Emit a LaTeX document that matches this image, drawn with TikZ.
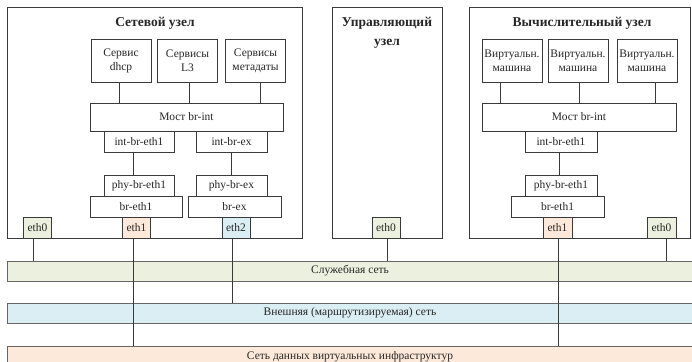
\documentclass[tikz,border=0pt]{standalone}
\usepackage{fontspec}
\setmainfont{Liberation Serif}
\usetikzlibrary{positioning,calc}

\definecolor{lanGreen}{HTML}{EBF1DE}
\definecolor{lanBlue}{HTML}{DAEEF3}
\definecolor{lanPeach}{HTML}{FDE9D9}
\definecolor{edgeGray}{HTML}{3A3A3A}

\begin{document}
\begin{tikzpicture}[x=1pt,y=-1pt,
	host/.style={draw=edgeGray, line width=0.9pt, fill=white, rectangle, inner sep=0pt, minimum height=231pt},
	hosttitle/.style={font=\fontsize{13.5}{19}\selectfont\bfseries, align=center, text=black!85},
	svc/.style={draw=edgeGray, line width=0.9pt, fill=white, align=center, inner sep=1pt, minimum width=60pt, minimum height=43pt, text=black!85, font=\fontsize{11.5}{14}\selectfont},
	brg/.style={draw=edgeGray, line width=0.9pt, fill=white, inner sep=1pt, minimum height=21pt, text=black!85, font=\fontsize{11.5}{14}\selectfont},
	port/.style={draw=edgeGray, line width=0.9pt, inner sep=0pt, minimum width=28pt, minimum height=21pt, text=black!85, font=\fontsize{11.5}{14}\selectfont},
	lan/.style={draw=black!60, line width=0.9pt, minimum width=686pt, minimum height=20pt, inner sep=0pt, text=black!85, font=\fontsize{11.5}{14}\selectfont},
	wire/.style={draw=edgeGray, line width=0.9pt}]
	\useasboundingbox (0,0) rectangle (692,361);
	\clip (0,0) rectangle (692,361);

	% networks
	\node[lan, fill=lanGreen] (srv) at (350,271) {Служебная сеть};
	\node[lan, fill=lanBlue] (ext) at (350,313) {Внешняя (маршрутизируемая) сеть};
	\node[lan, fill=lanPeach, minimum height=21pt] (dat) at (350,356.5) {Сеть данных виртуальных инфраструктур};

	% network node
	\begin{scope}
		\node[host, minimum width=295pt] (net) at (154.5,122.5) {};
		\node[hosttitle] (nettitle) at (155,23) {Сетевой узел};
		\node[svc] (dhcp) at (121,60.5) {Сервис\\dhcp};
		\node[svc] (l3) at (187.5,60.5) {Сервисы\\L3};
		\node[svc] (meta) at (255.5,60.5) {Сервисы\\метадаты};
		\node[brg, minimum width=193pt, minimum height=28pt] (netbr) at (186.5,117) {Мост br-int};
		\node[brg, minimum width=70pt] (netint1) at (139,141.5) {int-br-eth1};
		\node[brg, minimum width=71pt] (netintex) at (231.5,141.5) {int-br-ex};
		\node[brg, minimum width=70pt] (netphy1) at (139,185.5) {phy-br-eth1};
		\node[brg, minimum width=71pt] (netphyex) at (231.5,185.5) {phy-br-ex};
		\node[brg, minimum width=92pt] (netbre1) at (136,206.5) {br-eth1};
		\node[brg, minimum width=93pt] (netbrex) at (234.5,206.5) {br-ex};
		\node[port, fill=lanGreen] (neteth0) at (37.5,227.5) {eth0};
		\node[port, fill=lanPeach] (neteth1) at (136.5,227.5) {eth1};
		\node[port, fill=lanBlue] (neteth2) at (236,227.5) {eth2};

		\draw[wire] ([xshift=-2pt]dhcp.south) -- ([xshift=-2pt]dhcp.south |- netbr.north);
		\draw[wire] ([xshift=1.5pt]l3.south) -- ([xshift=1.5pt]l3.south |- netbr.north);
		\draw[wire] ([xshift=4.5pt]meta.south) -- ([xshift=4.5pt]meta.south |- netbr.north);
		\draw[wire] ([xshift=-6pt]netint1.south) -- ([xshift=-6pt]netphy1.north);
		\draw[wire] (netintex.south) -- (netphyex.north);
	\end{scope}

	% control node
	\begin{scope}
		\node[host, minimum width=110pt] (ctl) at (387,122.5) {};
		\node[hosttitle] (ctltitle) at (387,33) {Управляющий\\узел};
		\node[port, fill=lanGreen] (ctleth0) at (386,227.5) {eth0};
	\end{scope}

	% compute node
	\begin{scope}
		\node[host, minimum width=221pt] (cmp) at (579.5,122.5) {};
		\node[hosttitle] (cmptitle) at (582,23) {Вычислительный узел};
		\node[svc] (vm1) at (512,60.5) {Виртуальн.\\машина};
		\node[svc] (vm2) at (578,60.5) {Виртуальн.\\машина};
		\node[svc] (vm3) at (647,60.5) {Виртуальн.\\машина};
		\node[brg, minimum width=194pt, minimum height=28pt] (cmpbr) at (579,117) {Мост br-int};
		\node[brg, minimum width=72pt] (cmpint1) at (561,141.5) {int-br-eth1};
		\node[brg, minimum width=72pt] (cmpphy1) at (561,185.5) {phy-br-eth1};
		\node[brg, minimum width=93pt] (cmpbre1) at (557.5,206.5) {br-eth1};
		\node[port, fill=lanPeach, minimum width=29pt] (cmpeth1) at (557.5,227.5) {eth1};
		\node[port, fill=lanGreen, minimum width=29pt] (cmpeth0) at (661.5,227.5) {eth0};

		\draw[wire] ([xshift=-12pt]vm1.south) -- ([xshift=-12pt]vm1.south |- cmpbr.north);
		\draw[wire] ([xshift=1pt]vm2.south) -- ([xshift=1pt]vm2.south |- cmpbr.north);
		\draw[wire] ([xshift=8pt]vm3.south) -- ([xshift=8pt]vm3.south |- cmpbr.north);
		\draw[wire] ([xshift=-2pt]cmpint1.south) -- ([xshift=-2pt]cmpphy1.north);
	\end{scope}

	% links to the networks
	\draw[wire] ([xshift=-4pt]neteth0.south) -- ([xshift=-4pt]neteth0.south |- srv.north);
	\draw[wire] ([xshift=-3pt]neteth1.south) -- ([xshift=-3pt]neteth1.south |- dat.north);
	\draw[wire] ([xshift=-4pt]neteth2.south) -- ([xshift=-4pt]neteth2.south |- ext.north);
	\draw[wire] ([xshift=1pt]ctleth0.south) -- ([xshift=1pt]ctleth0.south |- srv.north);
	\draw[wire] ([xshift=1pt]cmpeth1.south) -- ([xshift=1pt]cmpeth1.south |- dat.north);
	\draw[wire] ([xshift=5pt]cmpeth0.south) -- ([xshift=5pt]cmpeth0.south |- srv.north);
\end{tikzpicture}
\end{document}
